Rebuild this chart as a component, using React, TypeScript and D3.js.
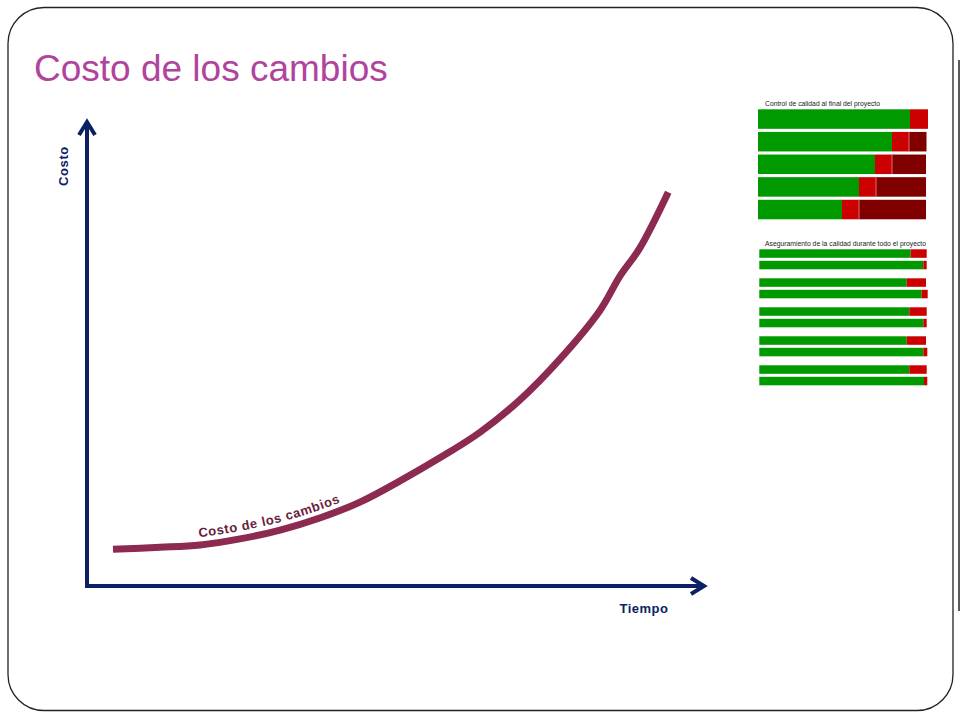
import React from 'react';
import * as d3 from 'd3';

// ---- Data ----
const title = 'Costo de los cambios';
const xAxisLabel = 'Tiempo';
const yAxisLabel = 'Costo';
const curveLabel = 'Costo de los cambios';

// cost-of-change curve (time 0..100, cost 0..100)
const curveTime = [4.2, 11.8, 18.3, 24.7, 31.2, 37.6, 44.1, 50.5, 57.0, 63.5, 69.9, 76.4, 82.9, 86.1, 89.3, 93.9];
const curveCost = [7.9, 8.3, 8.8, 10.1, 12.0, 14.6, 18.0, 22.5, 27.5, 33.0, 39.9, 48.7, 59.2, 66.5, 72.5, 84.5];

// Panel 1: Control de calidad al final del proyecto
const qcTitle = 'Control de calidad al final del proyecto';
const qcRows = ['1', '2', '3', '4', '5'];
const qcGreen = [152, 134, 117, 101, 84];
const qcRed = [18, 17, 17, 17, 17];
const qcDark = [0, 17.5, 34, 50, 67];

// Panel 2: Aseguramiento de la calidad durante todo el proyecto
const qaTitle = 'Aseguramiento de la calidad durante todo el proyecto';
const qaGroups = ['1', '2', '3', '4', '5'];
const qaGreenA = [151.4, 147.4, 150, 147.4, 150];
const qaRedA = [16, 19.3, 17.4, 19.3, 17.4];
const qaGreenB = [164, 162.4, 164, 164, 164.7];
const qaRedB = [3.4, 6, 3.4, 4, 3.3];

const GREEN = '#009900';
const RED = '#CC0000';
const DARK = '#800000';
const NAVY = '#0C2163';
const MAROON = '#8C2A51';

export default function App() {
  const x = d3.scaleLinear().domain([0, 100]).range([87, 706]);
  const y = d3.scaleLinear().domain([0, 100]).range([586, 120]);

  const pts = curveTime.map((t, i) => [t, curveCost[i]] as [number, number]);
  const line = d3
    .line<[number, number]>()
    .x((d) => x(d[0]))
    .y((d) => y(d[1]))
    .curve(d3.curveCatmullRom.alpha(0.5));
  const labelLine = d3
    .line<[number, number]>()
    .x((d) => x(d[0]))
    .y((d) => y(d[1]) - 8)
    .curve(d3.curveCatmullRom.alpha(0.5));

  // panel 1 scales
  const qcX = d3.scaleLinear().domain([0, 170]).range([758, 928]);
  const qcY = d3.scaleBand().domain(qcRows).range([109.3, 219.3]).paddingInner(0.137);

  // panel 2 scales
  const qaX = d3.scaleLinear().domain([0, 170]).range([759.3, 929.3]);
  const qaY = d3.scaleBand().domain(qaGroups).range([249.3, 385.3]).paddingInner(0.31);
  const qaInner = d3.scaleBand().domain(['a', 'b']).range([0, qaY.bandwidth()]).paddingInner(0.26);

  const x0 = x(0);
  const y0 = y(0);
  const xEnd = x(100);
  const yEnd = y(100);

  return (
    <svg width={960} height={720} style={{ position: 'absolute', left: 0, top: 0, background: '#fff' }}>
      {/* slide frame */}
      <rect x={8} y={7.5} width={945} height={703} rx={36} ry={36} fill="none" stroke="#222" strokeWidth={1.3} />
      <line x1={959} x2={959} y1={60} y2={611} stroke="#222" strokeWidth={1.5} />

      {/* title */}
      <text x={34} y={81} fontFamily="Liberation Sans, Arial, sans-serif" fontSize={37} fill="#B0449C">
        {title}
      </text>

      {/* axes */}
      <g stroke={NAVY} strokeWidth={4} fill="none" strokeLinecap="butt">
        <line x1={x0} x2={x0} y1={y0 + 2} y2={yEnd + 2} />
        <line x1={x0 - 2} x2={xEnd - 2} y1={y0} y2={y0} />
        <polyline points={`${x0 - 8},${yEnd + 15} ${x0},${yEnd + 2} ${x0 + 8},${yEnd + 15}`} strokeLinejoin="miter" />
        <polyline points={`${xEnd - 15},${y0 - 8} ${xEnd - 2},${y0} ${xEnd - 15},${y0 + 8}`} strokeLinejoin="miter" />
      </g>

      <text
        transform={`translate(68,166) rotate(-90)`}
        textAnchor="middle"
        fontFamily="Liberation Sans, Arial, sans-serif"
        fontWeight="bold"
        fontSize={13}
        letterSpacing={0.6}
        fill={NAVY}
      >
        {yAxisLabel}
      </text>
      <text
        x={644}
        y={613}
        textAnchor="middle"
        fontFamily="Liberation Sans, Arial, sans-serif"
        fontWeight="bold"
        fontSize={13}
        letterSpacing={0.5}
        fill={NAVY}
      >
        {xAxisLabel}
      </text>

      {/* curve */}
      <path d={line(pts) || ''} fill="none" stroke={MAROON} strokeWidth={7} />
      <path id="labelPath" d={labelLine(pts) || ''} fill="none" stroke="none" />
      <text fontFamily="Liberation Sans, Arial, sans-serif" fontWeight="bold" fontSize={13} letterSpacing={0.6} fill="#6A1E3E">
        <textPath href="#labelPath" startOffset={86}>
          {curveLabel}
        </textPath>
      </text>

      {/* panel 1 */}
      <text x={765} y={106} fontFamily="Liberation Sans, Arial, sans-serif" fontSize={6.5} fill="#222" textLength={115} lengthAdjust="spacingAndGlyphs">
        {qcTitle}
      </text>
      {qcRows.map((r, i) => {
        const yy = qcY(r) as number;
        const h = qcY.bandwidth();
        const g = qcGreen[i];
        const rd = qcRed[i];
        const dk = qcDark[i];
        return (
          <g key={r}>
            <rect x={qcX(0)} y={yy} width={qcX(g) - qcX(0)} height={h} fill={GREEN} />
            <rect x={qcX(g)} y={yy} width={qcX(g + rd) - qcX(g)} height={h} fill={RED} />
            {dk > 0 && (
              <>
                <rect x={qcX(g + rd)} y={yy} width={qcX(g + rd + dk) - qcX(g + rd)} height={h} fill={DARK} />
                <line x1={qcX(g + rd)} x2={qcX(g + rd)} y1={yy} y2={yy + h} stroke="#f0a0a0" strokeWidth={0.7} />
              </>
            )}
          </g>
        );
      })}

      {/* panel 2 */}
      <text x={765} y={246} fontFamily="Liberation Sans, Arial, sans-serif" fontSize={6.5} fill="#222" textLength={161} lengthAdjust="spacingAndGlyphs">
        {qaTitle}
      </text>
      {qaGroups.map((gk, i) => {
        const gy = qaY(gk) as number;
        const h = qaInner.bandwidth();
        const rows = [
          { k: 'a', g: qaGreenA[i], r: qaRedA[i] },
          { k: 'b', g: qaGreenB[i], r: qaRedB[i] },
        ];
        return (
          <g key={gk}>
            {rows.map((row) => {
              const yy = gy + (qaInner(row.k) as number);
              return (
                <g key={row.k}>
                  <rect x={qaX(0)} y={yy} width={qaX(row.g) - qaX(0)} height={h} fill={GREEN} />
                  <rect x={qaX(row.g)} y={yy} width={qaX(row.g + row.r) - qaX(row.g)} height={h} fill={RED} />
                </g>
              );
            })}
          </g>
        );
      })}
    </svg>
  );
}
